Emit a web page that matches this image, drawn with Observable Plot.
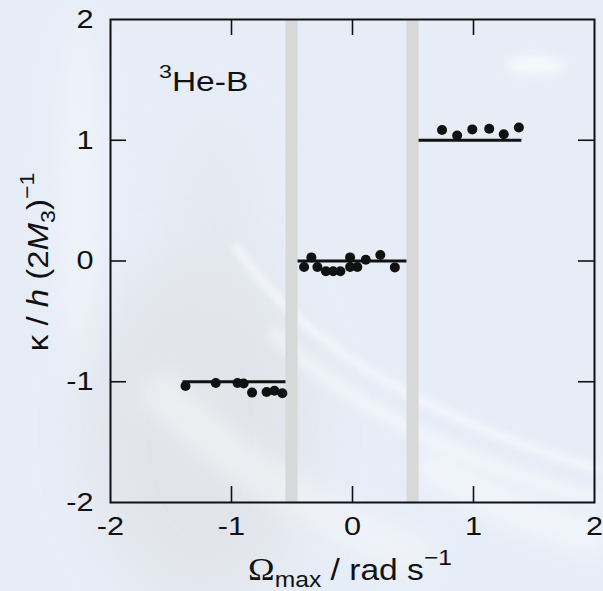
<!DOCTYPE html>
<html><head><meta charset="utf-8">
<script src="https://cdn.jsdelivr.net/npm/d3@7"></script>
<script src="https://cdn.jsdelivr.net/npm/@observablehq/plot@0.6"></script>
<style>
html,body{margin:0;padding:0;}
body{width:603px;height:591px;overflow:hidden;background:#e7edf7;position:relative;}
#bg{position:absolute;left:0;top:0;z-index:0;}
#chart{position:relative;z-index:1;}
#chart svg{display:block;background:transparent;}
</style></head><body>
<svg id="bg" width="603" height="591" aria-hidden="true">
  <defs>
    <filter id="b30" x="-50%" y="-50%" width="200%" height="200%"><feGaussianBlur stdDeviation="30"/></filter>
    <filter id="b12" x="-50%" y="-50%" width="200%" height="200%"><feGaussianBlur stdDeviation="12"/></filter>
    <filter id="b5" x="-50%" y="-50%" width="200%" height="200%"><feGaussianBlur stdDeviation="5"/></filter>
    <filter id="b3" x="-50%" y="-50%" width="200%" height="200%"><feGaussianBlur stdDeviation="3"/></filter>
  </defs>
  <rect width="603" height="591" fill="#e7edf7"/>
  <ellipse cx="80" cy="200" rx="25" ry="180" fill="#f1f4fa" opacity="0.7" filter="url(#b12)"/>
  <ellipse cx="200" cy="430" rx="110" ry="170" fill="#e0e1e5" opacity="0.75" filter="url(#b30)"/>
  <ellipse cx="215" cy="230" rx="45" ry="120" fill="#e3e6ec" opacity="0.6" filter="url(#b30)"/>
  <path d="M150 380 Q 260 500 430 560" stroke="#f6f7f9" stroke-width="40" fill="none" opacity="0.55" filter="url(#b12)"/>
  <path d="M235 245 Q 330 390 600 470" stroke="#ffffff" stroke-width="9" fill="none" opacity="0.5" filter="url(#b3)"/>
  <path d="M270 330 Q 380 440 600 500" stroke="#ffffff" stroke-width="14" fill="none" opacity="0.4" filter="url(#b5)"/>
  <path d="M420 460 Q 520 520 603 540" stroke="#ffffff" stroke-width="30" fill="none" opacity="0.5" filter="url(#b12)"/>
  <ellipse cx="535" cy="65" rx="30" ry="10" fill="#ffffff" opacity="0.6" filter="url(#b5)"/>
</svg>
<div id="chart"></div>
<script>
// Tick values
const xTicks = [-2, -1, 0, 1, 2];
const yTicks = [-2, -1, 0, 1, 2];
const innerTicks = [-1, 0, 1];

// Forbidden gaps (grey bands)
const gapStart = [-0.55, 0.45];
const gapEnd = [-0.45, 0.55];

// Quantised levels (horizontal lines)
const levelKappa = [-1, 0, 1];
const levelStart = [-1.4, -0.45, 0.55];
const levelEnd = [-0.55, 0.45, 1.4];

// Measured points
const omegaMinus = [-1.38, -1.13, -0.95, -0.90, -0.83, -0.71, -0.645, -0.58];
const kappaMinus = [-1.035, -1.01, -1.01, -1.015, -1.09, -1.085, -1.075, -1.095];
const omegaZero = [-0.40, -0.34, -0.29, -0.22, -0.16, -0.10, -0.02, -0.02, 0.04, 0.11, 0.23, 0.35];
const kappaZero = [-0.05, 0.03, -0.05, -0.085, -0.085, -0.085, 0.03, -0.05, -0.05, 0.01, 0.05, -0.053];
const omegaPlus = [0.74, 0.865, 0.99, 1.13, 1.25, 1.375];
const kappaPlus = [1.085, 1.04, 1.09, 1.095, 1.05, 1.105];

// Annotation anchor (data units)
const annoX = [-1.595];
const annoY = [1.405];

const gaps = gapStart.map((s, i) => ({x1: s, x2: gapEnd[i]}));
const levels = levelKappa.map((k, i) => ({y: k, x1: levelStart[i], x2: levelEnd[i]}));
const points = [
  ...omegaMinus.map((x, i) => ({x, y: kappaMinus[i]})),
  ...omegaZero.map((x, i) => ({x, y: kappaZero[i]})),
  ...omegaPlus.map((x, i) => ({x, y: kappaPlus[i]}))
];

const W = 603, H = 591, ML = 110, MR = 9, MT = 19, MB = 89;
const PW = W - ML - MR, PH = H - MT - MB, TL = 16;
const fmt = d => String(d);

const plot = Plot.plot({
  width: W, height: H,
  marginLeft: ML, marginRight: MR, marginTop: MT, marginBottom: MB,
  style: {background: "transparent", fontFamily: "'Liberation Sans', Arial, Helvetica, sans-serif", color: "#111"},
  x: {domain: [-2, 2], label: null},
  y: {domain: [-2, 2], label: null},
  marks: [
    Plot.rect(gaps, {x1: "x1", x2: "x2", fill: "#d8d8d8"}),
    Plot.tickX(innerTicks, {x: d => d, insetTop: PH - TL, stroke: "#111", strokeWidth: 1.6}),
    Plot.tickX(innerTicks, {x: d => d, insetBottom: PH - TL, stroke: "#111", strokeWidth: 1.6}),
    Plot.tickY(innerTicks, {y: d => d, insetRight: PW - TL, stroke: "#111", strokeWidth: 1.6}),
    Plot.tickY(innerTicks, {y: d => d, insetLeft: PW - TL, stroke: "#111", strokeWidth: 1.6}),
    Plot.axisX({anchor: "bottom", ticks: xTicks, tickSize: 0, tickPadding: 14, tickFormat: fmt, fontSize: 26, label: null}),
    Plot.axisY({anchor: "left", ticks: yTicks, tickSize: 0, tickPadding: 17, tickFormat: fmt, fontSize: 26, label: null}),
    Plot.ruleY(levels, {y: "y", x1: "x1", x2: "x2", stroke: "#111", strokeWidth: 3.2}),
    Plot.dot(points, {x: "x", y: "y", r: 5, fill: "#111", stroke: "none"}),
    Plot.frame({stroke: "#111", strokeWidth: 2})
  ]
});

const svg = d3.select(plot);
svg.style("overflow", "visible");

// Widen tick label glyphs to match the reference typeface
svg.selectAll('g[aria-label="x-axis tick label"] text, g[aria-label="y-axis tick label"] text').each(function() {
  const t = this.getAttribute("transform");
  if (t) this.setAttribute("transform", t + " scale(1.18,1)");
});

// Annotation 3He-B
const ax = plot.scale("x").apply(annoX[0]);
const ay = plot.scale("y").apply(annoY[0]);
const an = svg.append("text").attr("transform", `translate(${ax},${ay}) scale(1.22,1)`)
  .attr("text-anchor", "start").attr("font-size", 27.5).attr("fill", "#111");
an.append("tspan").attr("font-size", 19).attr("dy", -13).text("3");
an.append("tspan").attr("dy", 13).text("He-B");

// Y label
const yl = svg.append("text").attr("transform", "translate(48,262) rotate(-90) scale(1.1,1)")
  .attr("text-anchor", "middle").attr("font-size", 30).attr("fill", "#111");
yl.append("tspan").text("κ / ");
yl.append("tspan").attr("font-style", "italic").text("h");
yl.append("tspan").text(" (2");
yl.append("tspan").attr("font-style", "italic").text("M");
yl.append("tspan").attr("font-size", 21).attr("dy", 7).text("3");
yl.append("tspan").attr("dy", -7).text(")");
yl.append("tspan").attr("font-size", 21).attr("dy", -14).text("−1");

// X label
const xl = svg.append("text").attr("transform", "translate(350,580) scale(1.12,1)")
  .attr("text-anchor", "middle").attr("font-size", 30).attr("fill", "#111");
xl.append("tspan").attr("font-family", "'Liberation Serif', 'Times New Roman', serif").attr("font-size", 32).text("Ω");
xl.append("tspan").attr("font-size", 22).attr("dy", 7).text("max");
xl.append("tspan").attr("dy", -7).text(" / rad s");
xl.append("tspan").attr("font-size", 22).attr("dy", -15).text("−1");

document.getElementById("chart").appendChild(plot);
</script>
</body></html>
